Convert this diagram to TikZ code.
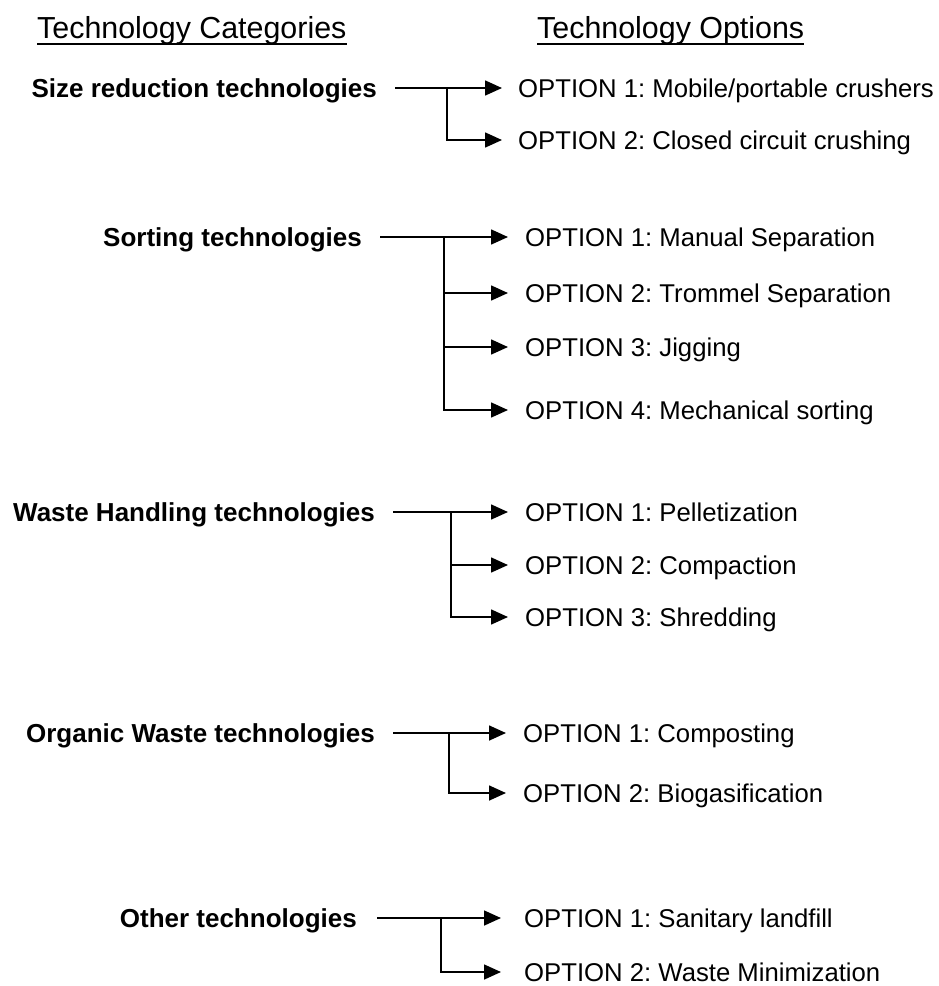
\documentclass[tikz,border=0pt]{standalone}
\usepackage{fontspec}
\setmainfont{Liberation Sans}
\usetikzlibrary{arrows.meta}
\frenchspacing

\newcommand\headsize{\fontsize{30.4}{36}\selectfont}
\newcommand\catsize{\fontsize{26}{31}\bfseries\selectfont}
\newcommand\optsize{\fontsize{25.7}{30}\selectfont}

\tikzset{
  header/.style={anchor=base west, inner sep=0pt, font=\headsize},
  category/.style={anchor=east, inner sep=0pt, text height=18.6pt, text depth=0pt, font=\catsize},
  option/.style={anchor=west, inner sep=0pt, text height=18.4pt, text depth=0pt, font=\optsize},
  wire/.style={line width=1.6pt, -{Triangle[length=17pt,width=15pt]}},
  rule/.style={line width=2pt}
}

\begin{document}
\begin{tikzpicture}[x=1pt, y=-1pt]
\useasboundingbox[fill=white] (0,0) rectangle (939,986);

% column headings
\node[header] (hcat) at (37,38.5) {Technology Categories};
\node[header] (hopt) at (537,38.5) {Technology Options};
\draw[rule] ([yshift=-5.5pt]hcat.base west) -- ([yshift=-5.5pt]hcat.base east);
\draw[rule] ([yshift=-5.5pt]hopt.base west) -- ([yshift=-5.5pt]hopt.base east);

% size reduction
\node[category] (c1) at (377,88) {Size reduction technologies};
\node[option] (o11) at (518,88) {OPTION 1: Mobile/portable crushers};
\node[option] (o12) at (518,140) {OPTION 2: Closed circuit crushing};
\coordinate (j1) at (447,88);
\draw[wire] ([xshift=18pt]c1.east) -- ([xshift=-16pt]o11.west);
\draw[wire] (j1) |- ([xshift=-16pt]o12.west);

% sorting
\node[category] (c2) at (362,237) {Sorting technologies};
\node[option] (o21) at (525,237) {OPTION 1: Manual Separation};
\node[option] (o22) at (525,293) {OPTION 2: Trommel Separation};
\node[option] (o23) at (525,347) {OPTION 3: Jigging};
\node[option] (o24) at (525,410) {OPTION 4: Mechanical sorting};
\coordinate (j2) at (444,237);
\draw[wire] ([xshift=18pt]c2.east) -- ([xshift=-17pt]o21.west);
\draw[wire] (j2 |- o22.west) -- ([xshift=-17pt]o22.west);
\draw[wire] (j2 |- o23.west) -- ([xshift=-17pt]o23.west);
\draw[wire] (j2) |- ([xshift=-17pt]o24.west);

% waste handling
\node[category] (c3) at (375,512) {Waste Handling technologies};
\node[option] (o31) at (525,512) {OPTION 1: Pelletization};
\node[option] (o32) at (525,565) {OPTION 2: Compaction};
\node[option] (o33) at (525,617) {OPTION 3: Shredding};
\coordinate (j3) at (451,512);
\draw[wire] ([xshift=18pt]c3.east) -- ([xshift=-17pt]o31.west);
\draw[wire] (j3 |- o32.west) -- ([xshift=-17pt]o32.west);
\draw[wire] (j3) |- ([xshift=-17pt]o33.west);

% organic waste
\node[category] (c4) at (375,733) {Organic Waste technologies};
\node[option] (o41) at (523,733) {OPTION 1: Composting};
\node[option] (o42) at (523,793) {OPTION 2: Biogasification};
\coordinate (j4) at (449,733);
\draw[wire] ([xshift=18pt]c4.east) -- ([xshift=-17pt]o41.west);
\draw[wire] (j4) |- ([xshift=-17pt]o42.west);

% other
\node[category] (c5) at (357,918) {Other technologies};
\node[option] (o51) at (524,918) {OPTION 1: Sanitary landfill};
\node[option] (o52) at (524,972) {OPTION 2: Waste Minimization};
\coordinate (j5) at (441,918);
\draw[wire] ([xshift=20pt]c5.east) -- ([xshift=-23pt]o51.west);
\draw[wire] (j5) |- ([xshift=-23pt]o52.west);
\end{tikzpicture}
\end{document}
